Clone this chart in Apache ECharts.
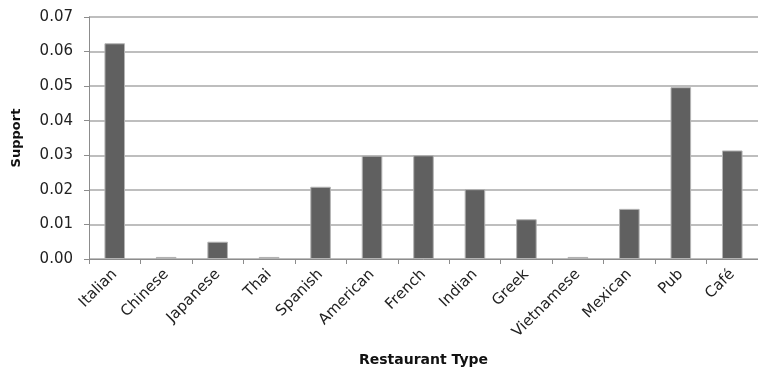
<!DOCTYPE html>
<html>
<head>
<meta charset="utf-8">
<script src="https://cdn.jsdelivr.net/npm/echarts@6/dist/echarts.min.js"></script>
<style>html,body{margin:0;padding:0;background:#fff}#c{width:758px;height:374px}</style>
</head>
<body>
<div id="c"></div>
<script>
const categories = ["Italian","Chinese","Japanese","Thai","Spanish","American","French","Indian","Greek","Vietnamese","Mexican","Pub","Café"];
const support = [0.0624,0.0006,0.0050,0.0006,0.0209,0.0299,0.0300,0.0202,0.0115,0.0006,0.0145,0.0497,0.0314];
const yTicks = {min:0, max:0.07, interval:0.01};

const chart = echarts.init(document.getElementById('c'), null, {renderer:'canvas'});
const font = 'DejaVu Sans';
chart.setOption({
  animation:false,
  backgroundColor:'#fff',
  grid:{left:89, right:-8, top:17, bottom:115, containLabel:false},
  xAxis:{
    type:'category',
    data:categories,
    name:'Restaurant Type',
    nameLocation:'middle',
    nameGap:94,
    nameTextStyle:{fontFamily:font, fontWeight:'bold', fontSize:14, color:'#111'},
    axisLine:{lineStyle:{color:'#8c8c8c', width:1}},
    axisTick:{show:true, length:5, lineStyle:{color:'#8c8c8c'}},
    axisLabel:{rotate:45, fontFamily:font, fontSize:15, color:'#222', margin:13, interval:0}
  },
  yAxis:{
    type:'value',
    min:yTicks.min, max:yTicks.max, interval:yTicks.interval,
    name:'Support',
    nameLocation:'middle',
    nameGap:66,
    nameTextStyle:{fontFamily:font, fontWeight:'bold', fontSize:13, color:'#111'},
    axisLine:{show:true, lineStyle:{color:'#8c8c8c', width:1}},
    axisTick:{show:true, length:5, lineStyle:{color:'#8c8c8c'}},
    axisLabel:{fontFamily:font, fontSize:15, color:'#222', margin:16, formatter:v=>v.toFixed(2)},
    splitLine:{show:true, lineStyle:{color:'#a8a8a8', width:1.5}}
  },
  series:[{
    type:'bar',
    data:support,
    barWidth:'40%',
    itemStyle:{color:'#606060', borderColor:'#b4b4b4', borderWidth:1}
  }]
});
</script>
</body>
</html>
